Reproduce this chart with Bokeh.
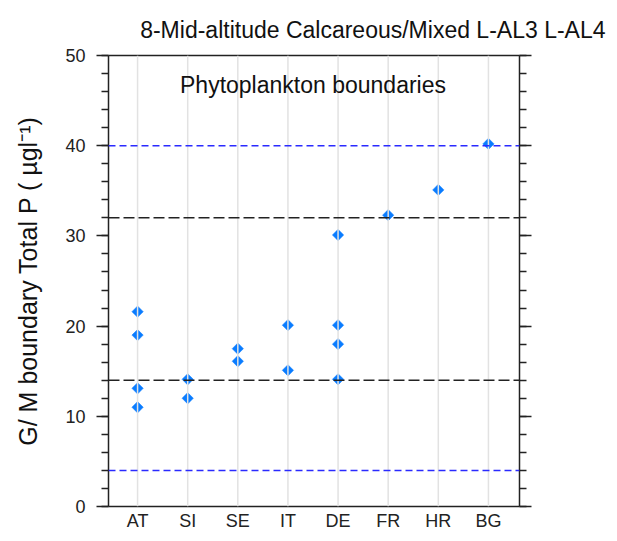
import math
from bokeh.plotting import figure
from bokeh.models import (Range1d, LinearAxis, FixedTicker, Span, Label, Title)
from bokeh.embed import file_html
from bokeh.resources import INLINE

# ---- data ----
countries = ["AT", "SI", "SE", "IT", "DE", "FR", "HR", "BG"]
values = {
    "AT": [21.6, 19.0, 13.1, 11.0],
    "SI": [14.1, 12.0],
    "SE": [17.5, 16.1],
    "IT": [20.1, 15.1],
    "DE": [30.1, 20.1, 18.0, 14.1],
    "FR": [32.3],
    "HR": [35.1],
    "BG": [40.2],
}
black_bounds = [32, 14]
blue_bounds = [40, 4]
y_ticks = [0, 10, 20, 30, 40, 50]
y_minor = list(range(0, 51, 2))

FONT = "Liberation Sans"

xs, ys = [], []
for i, c in enumerate(countries):
    for v in values[c]:
        xs.append(i + 1)
        ys.append(v)

p = figure(width=609, height=533, output_backend="svg", toolbar_location=None,
           x_range=Range1d(0.42, 8.62), y_range=Range1d(0, 50),
           x_axis_location=None, y_axis_location=None,
           min_border_left=108, min_border_right=90, min_border_top=55,
           min_border_bottom=20, background_fill_color="white",
           border_fill_color="white", outline_line_color=None)

p.title = Title(text="8-Mid-altitude Calcareous/Mixed L-AL3 L-AL4", align="right",
                text_font=FONT, text_font_size="23px", text_font_style="normal",
                text_color="#111111", offset=-86, standoff=25)

p.ygrid.visible = False
p.xgrid.visible = False

for i in range(len(countries)):
    p.add_layout(Span(location=i + 1, dimension="height", line_color="#e2e2e2", line_width=1.5))

def style_axis(ax):
    ax.axis_line_color = "#222222"
    ax.axis_line_width = 1.5
    ax.major_tick_line_color = "#222222"
    ax.minor_tick_line_color = "#222222"
    ax.major_tick_line_width = 1.5
    ax.minor_tick_line_width = 1.5
    ax.major_label_text_font = FONT
    ax.major_label_text_font_size = "18px"
    ax.major_label_text_color = "#222222"

left = LinearAxis(ticker=FixedTicker(ticks=y_ticks, minor_ticks=y_minor))
style_axis(left)
left.major_tick_out = 12
left.major_tick_in = 0
left.minor_tick_out = 7
left.minor_tick_in = 0
left.major_label_standoff = 11
left.axis_label = "G/ M boundary Total P ( µgl⁻¹)"
left.axis_label_text_font = FONT
left.axis_label_text_font_size = "25px"
left.axis_label_text_font_style = "normal"
left.axis_label_text_color = "#111111"
left.axis_label_standoff = 20
p.add_layout(left, "left")

right = LinearAxis(ticker=FixedTicker(ticks=y_ticks, minor_ticks=y_minor))
style_axis(right)
right.major_tick_out = 12
right.major_tick_in = 0
right.minor_tick_out = 7
right.minor_tick_in = 0
right.major_label_text_color = None
p.add_layout(right, "right")

top = LinearAxis(ticker=FixedTicker(ticks=[]))
style_axis(top)
top.major_tick_out = 0
top.major_tick_in = 0
top.minor_tick_out = 0
top.major_label_standoff = 0
top.major_label_text_color = None
top.major_tick_line_color = None
top.minor_tick_line_color = None
p.add_layout(top, "above")

bottom = LinearAxis(ticker=FixedTicker(ticks=list(range(1, len(countries) + 1)), minor_ticks=[]))
style_axis(bottom)
bottom.major_tick_out = 0
bottom.major_tick_in = 0
bottom.minor_tick_out = 0
bottom.major_tick_line_color = None
bottom.minor_tick_line_color = None
bottom.major_label_overrides = {i + 1: c for i, c in enumerate(countries)}
bottom.major_label_standoff = 4
p.add_layout(bottom, "below")

for b in blue_bounds:
    p.add_layout(Span(location=b, dimension="width", line_color="#2a2aff",
                      line_width=1.5, line_dash="7 4"))
for b in black_bounds:
    p.add_layout(Span(location=b, dimension="width", line_color="#222222",
                      line_width=1.5, line_dash="11 4"))

p.scatter(xs, ys, marker="square", size=8, angle=math.pi / 4,
          fill_color="#0a7cff", line_color="#0a7cff", line_width=0.5)

p.add_layout(Label(x=4.5, y=46.7, text="Phytoplankton boundaries", text_font=FONT,
                   text_font_size="23px", text_align="center", text_baseline="middle",
                   text_color="#111111"))

open("out.html", "w").write(file_html(p, INLINE))
